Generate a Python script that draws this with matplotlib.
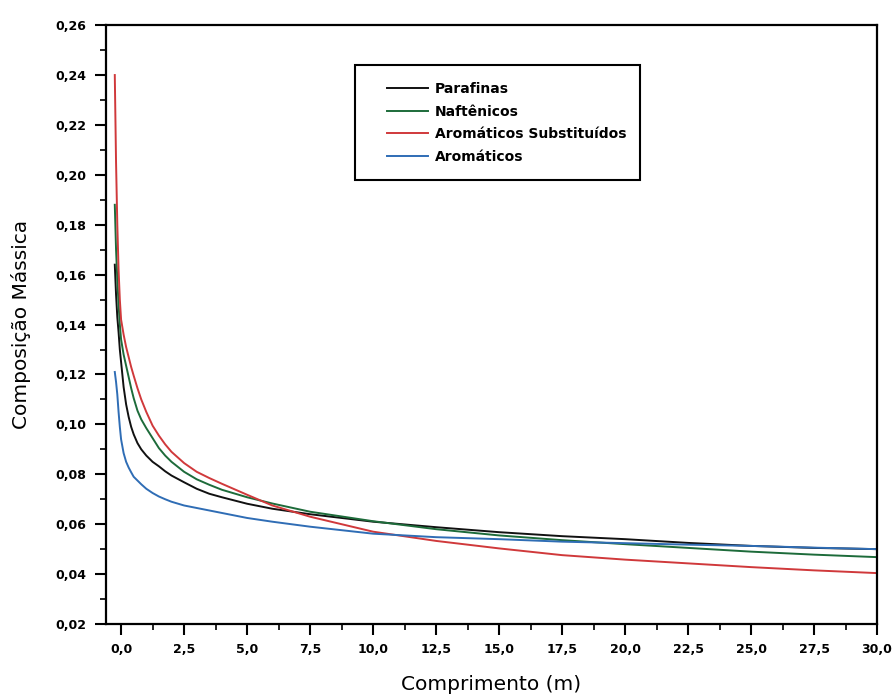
import numpy as np
import matplotlib.pyplot as plt
from matplotlib.patches import Rectangle
from matplotlib.ticker import MultipleLocator, FuncFormatter

# Dados
comprimento = [-0.25, -0.2, -0.15, -0.1, -0.05, 0.0, 0.1, 0.2, 0.3, 0.4, 0.5, 0.65, 0.8,
               1.0, 1.25, 1.5, 1.75, 2.0, 2.5, 3.0, 3.5, 4.0, 5.0, 6.0, 7.5, 10.0, 12.5,
               15.0, 17.5, 20.0, 22.5, 25.0, 27.5, 30.0]

parafinas = [0.164, 0.152, 0.143, 0.137, 0.130, 0.125, 0.115, 0.108, 0.103, 0.099, 0.096,
             0.0925, 0.090, 0.0875, 0.085, 0.0832, 0.0812, 0.0795, 0.0768, 0.0742, 0.0722,
             0.0708, 0.0682, 0.0662, 0.0640, 0.0610, 0.0588, 0.0568, 0.0552, 0.0540,
             0.0525, 0.0513, 0.0505, 0.0500]
naftenicos = [0.188, 0.170, 0.158, 0.148, 0.140, 0.134, 0.128, 0.1235, 0.119, 0.1145,
              0.1105, 0.1055, 0.102, 0.0985, 0.0945, 0.0905, 0.0875, 0.085, 0.081, 0.078,
              0.0758, 0.0738, 0.0708, 0.0683, 0.0650, 0.0612, 0.0580, 0.0555, 0.0536,
              0.0520, 0.0505, 0.0490, 0.0478, 0.0468]
arom_subst = [0.240, 0.205, 0.180, 0.162, 0.150, 0.142, 0.136, 0.131, 0.127, 0.123, 0.1195,
              0.1145, 0.110, 0.105, 0.0995, 0.0955, 0.092, 0.089, 0.0845, 0.081, 0.0785,
              0.0762, 0.0718, 0.0675, 0.0630, 0.0570, 0.0533, 0.0503, 0.0476, 0.0458,
              0.0443, 0.0428, 0.0415, 0.0404]
aromaticos = [0.121, 0.117, 0.112, 0.105, 0.099, 0.094, 0.0885, 0.085, 0.0827, 0.0808,
              0.079, 0.0775, 0.076, 0.0742, 0.0725, 0.0711, 0.070, 0.069, 0.0675, 0.0665,
              0.0655, 0.0645, 0.0625, 0.061, 0.0590, 0.0562, 0.0548, 0.0540, 0.0530,
              0.0524, 0.0518, 0.0513, 0.0506, 0.0500]

series = [
    ("Parafinas", parafinas, "#111111"),
    ("Naftênicos", naftenicos, "#1d6b3a"),
    ("Aromáticos Substituídos", arom_subst, "#d0393b"),
    ("Aromáticos", aromaticos, "#2f6db5"),
]

plt.rcParams['font.family'] = ['DejaVu Sans']

fig = plt.figure(figsize=(8.95, 6.98), dpi=100)
ax = fig.add_axes([0.1184, 0.106, 0.8616, 0.858])

for nome, valores, cor in series:
    ax.plot(comprimento, valores, color=cor, lw=1.4, label=nome)

ax.set_xlim(-0.6, 30)
ax.set_ylim(0.02, 0.26)

ax.xaxis.set_major_locator(MultipleLocator(2.5))
ax.xaxis.set_minor_locator(MultipleLocator(1.25))
ax.yaxis.set_major_locator(MultipleLocator(0.02))
ax.yaxis.set_minor_locator(MultipleLocator(0.01))

ax.xaxis.set_major_formatter(FuncFormatter(lambda v, p: f"{v:.1f}".replace('.', ',')))
ax.yaxis.set_major_formatter(FuncFormatter(lambda v, p: f"{v:.2f}".replace('.', ',')))

ax.tick_params(which='major', direction='out', length=8, width=1.5, labelsize=9)
ax.tick_params(which='minor', direction='out', length=4.5, width=1.2)
ax.tick_params(axis='both', which='major', pad=6)
for lbl in ax.get_xticklabels() + ax.get_yticklabels():
    lbl.set_fontweight('bold')

for sp in ax.spines.values():
    sp.set_linewidth(1.6)

ax.set_xlabel("Comprimento (m)", fontsize=14.5, labelpad=13)
ax.set_ylabel("Composição Mássica", fontsize=14.5, labelpad=18)

# caixa da legenda
ax.add_patch(Rectangle((0.323, 0.741), 0.3696, 0.192, transform=ax.transAxes,
                       fill=False, lw=1.5, ec='black', zorder=5))
leg = ax.legend(loc='upper left', bbox_to_anchor=(0.364, 0.905), frameon=False,
                handlelength=3.0, handletextpad=0.45, labelspacing=0.62,
                borderpad=0, borderaxespad=0,
                prop={'weight': 'bold', 'size': 10})

fig.savefig("out.png", dpi=100)
